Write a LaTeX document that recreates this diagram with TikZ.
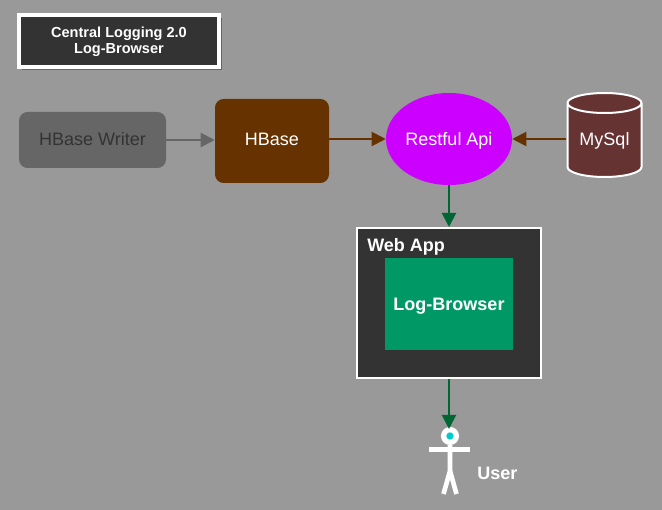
\documentclass[tikz,border=0pt]{standalone}
\usepackage{fontspec}
\setmainfont{Liberation Sans}
\usepackage{xcolor}
\usetikzlibrary{arrows.meta, positioning, shadows, shapes.geometric}

\definecolor{canvas}{HTML}{999999}
\definecolor{darkbox}{HTML}{333333}
\definecolor{writergray}{HTML}{666666}
\definecolor{hbasebrown}{HTML}{663300}
\definecolor{apimagenta}{HTML}{CC00FF}
\definecolor{mysqlred}{HTML}{663333}
\definecolor{browsergreen}{HTML}{009966}
\definecolor{flowgreen}{HTML}{006633}
\definecolor{headcyan}{HTML}{00CCCC}

\begin{document}
\begin{tikzpicture}[x=0.75pt,y=-0.75pt,>={Triangle[length=10.5pt,width=10.5pt]},auto]
  \tikzstyle{every node}=[text=white,font=\fontsize{13.5}{16}\selectfont]
  \tikzstyle{block}=[rectangle,rounded corners=6.5pt,inner sep=0pt]
  \tikzstyle{bold label}=[inner sep=0pt,font=\fontsize{13.5}{16}\selectfont\bfseries]
  \tikzstyle{user line}=[draw=white,line width=3.5pt]

  \fill[canvas] (0,0) rectangle (662,510);
  \useasboundingbox (0,0) rectangle (662,510);

  \node[rectangle,draw=white,fill=darkbox,line width=3pt,align=center,
        minimum width=150pt,minimum height=39pt,inner sep=0pt,
        font=\fontsize{10.9}{12}\selectfont\bfseries,
        general shadow={shadow xshift=2.25pt,shadow yshift=-2.25pt,fill=writergray}]
        (title) at (119,41) {\rule{0pt}{9.5pt}Central Logging 2.0\\Log-Browser};

  \node[block,fill=writergray,text=darkbox,text depth=2pt,minimum width=110.25pt,minimum height=42pt]
        (writer) at (92.5,140) {HBase Writer};
  \node[block,fill=hbasebrown,text depth=2.5pt,minimum width=85.5pt,minimum height=63pt]
        (hbase) at (272,141) {HBase};
  \node[ellipse,fill=apimagenta,inner sep=0pt,text height=12.5pt,text depth=2.8pt,
        minimum width=94.5pt,minimum height=69pt]
        (restful) at (449,139) {Restful Api};
  \node[cylinder,shape border rotate=90,aspect=0.4,draw=white,line width=1.5pt,
        cylinder uses custom fill,cylinder body fill=mysqlred,cylinder end fill=mysqlred,
        inner sep=0pt,minimum width=55.5pt,minimum height=63pt]
        (mysql) at (604.5,140.5) {MySql};

  \node[rectangle,draw=white,fill=darkbox,line width=1.5pt,minimum width=138pt,minimum height=112.5pt]
        (webapp) at (449,303) {};
  \node[bold label,anchor=west] (webapp_label) at (367,247) {Web App};
  \node[rectangle,fill=browsergreen,bold label,text height=12.5pt,text depth=2.8pt,
        minimum width=96pt,minimum height=69pt]
        (browser) at (449,304) {Log-Browser};

  \node[circle,draw=white,fill=headcyan,line width=4pt,inner sep=0pt,minimum size=9.5pt]
        (head) at (450,436) {};
  \coordinate (arm_l) at (429,449.5);
  \coordinate (arm_r) at (470,449.5);
  \coordinate (hip)   at (450,471);
  \coordinate (leg_l) at (443.5,494);
  \coordinate (leg_r) at (456.5,494);
  \draw[user line] (head) -- (hip) -- (leg_l);
  \draw[user line] (hip) -- (leg_r);
  \draw[user line] (arm_l) -- (arm_r);
  \node[bold label,anchor=west] (user_label) at (477,473) {User};

  \path[->,line width=1.5pt]
  (writer) edge[draw=writergray,color=writergray] (hbase.west |- writer)
  (hbase.east |- restful) edge[draw=hbasebrown,color=hbasebrown] (restful)
  (mysql.west |- restful) edge[draw=hbasebrown,color=hbasebrown] (restful)
  (restful) edge[draw=flowgreen,color=flowgreen] (webapp.north -| restful)
  (webapp.south -| restful) edge[draw=flowgreen,color=flowgreen,shorten >=-1.5pt] (restful |- head.north)
  ;
\end{tikzpicture}
\end{document}
